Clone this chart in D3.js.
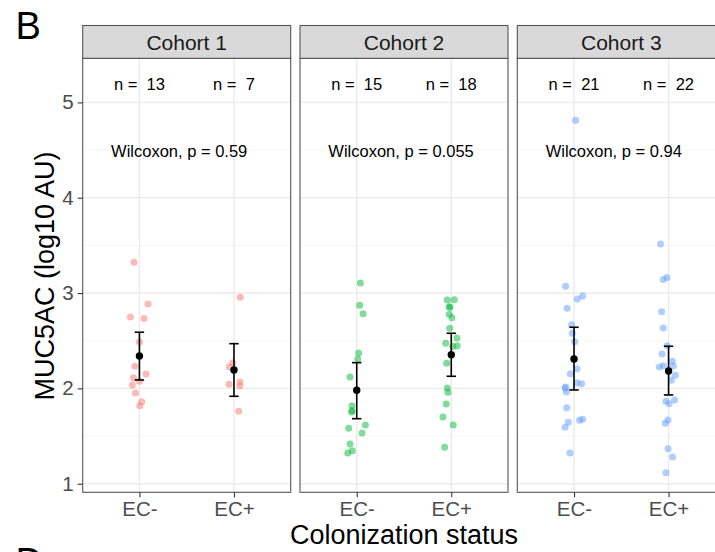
<!DOCTYPE html>
<html>
<head>
<meta charset="utf-8">
<script src="https://cdn.jsdelivr.net/npm/d3@7"></script>
<style>
  html, body { margin: 0; padding: 0; background: #fff; }
  svg { display: block; overflow: hidden; }
  text { font-family: "Liberation Sans", Arial, Helvetica, sans-serif; }
</style>
</head>
<body>
<svg id="chart" width="715" height="552"></svg>
<script>
// Facets and groups
const cohorts = ["Cohort 1", "Cohort 2", "Cohort 3"];
const groups = ["EC-", "EC+"];

// MUC5AC (log10 AU) per subject, with the horizontal jitter (in category units)
const c1NegValues = [3.323, 2.886, 2.749, 2.732, 2.487, 2.232, 2.151, 2.112, 2.074, 2.036, 1.952, 1.861, 1.819];
const c1NegJitter = [-0.057, 0.091, -0.095, 0.049, 0.000, -0.047, 0.070, -0.063, 0.000, -0.074, -0.042, 0.024, 0.003];
const c1PosValues = [2.956, 2.270, 2.225, 2.067, 2.043, 2.025, 1.760];
const c1PosJitter = [0.067, -0.014, -0.050, 0.063, -0.053, 0.063, 0.050];

const c2NegValues = [3.106, 2.872, 2.784, 2.371, 2.308, 2.120, 1.819, 1.766, 1.752, 1.616, 1.581, 1.532, 1.417, 1.346, 1.322];
const c2NegJitter = [0.039, 0.032, 0.067, 0.021, 0.011, -0.071, -0.050, -0.050, -0.053, 0.092, -0.085, 0.056, -0.071, -0.046, -0.095];
const c2PosValues = [2.928, 2.931, 2.857, 2.851, 2.778, 2.742, 2.631, 2.529, 2.473, 2.438, 2.448, 2.263, 2.004, 1.959, 1.836, 1.700, 1.616, 1.382];
const c2PosJitter = [-0.042, 0.032, -0.021, -0.014, -0.021, 0.007, -0.017, 0.060, -0.059, 0.015, 0.063, -0.049, -0.042, -0.035, -0.053, -0.088, 0.021, -0.070];

const c3NegValues = [4.813, 3.071, 2.970, 2.938, 2.840, 2.668, 2.578, 2.490, 2.154, 2.204, 2.060, 2.049, 2.015, 2.004, 1.962, 1.798, 1.644, 1.592, 1.665, 1.676, 1.322];
const c3NegJitter = [0.017, -0.089, 0.091, 0.035, -0.074, -0.025, -0.018, 0.006, -0.039, 0.032, 0.032, 0.080, -0.089, -0.095, -0.081, -0.078, -0.060, -0.095, 0.059, 0.091, -0.042];
const c3PosValues = [3.515, 3.141, 3.162, 2.805, 2.634, 2.448, 2.361, 2.284, 2.235, 2.238, 2.225, 2.137, 2.085, 1.865, 1.840, 1.878, 1.668, 1.633, 1.367, 1.280, 1.116, 2.183];
const c3PosJitter = [-0.085, -0.056, -0.017, -0.074, -0.056, -0.014, -0.070, 0.039, 0.050, -0.056, -0.098, 0.071, 0.029, -0.028, 0.004, 0.063, -0.006, -0.035, -0.006, 0.042, -0.028, 0.000];

// Group means with their confidence interval
const meanValues = [[2.340, 2.193], [1.980, 2.354], [2.308, 2.183]];
const ciLower    = [[2.088, 1.917], [1.682, 2.127], [1.983, 1.931]];
const ciUpper    = [[2.589, 2.469], [2.270, 2.578], [2.641, 2.442]];

// Wilcoxon test p-values per cohort
const pValues = ["0.59", "0.055", "0.94"];

const yTicks = [1, 2, 3, 4, 5];
const yMinorTicks = [1.5, 2.5, 3.5, 4.5];
const cohortColors = ["#F8766D", "#00BA38", "#619CFF"];

const seriesValues = [[c1NegValues, c1PosValues], [c2NegValues, c2PosValues], [c3NegValues, c3PosValues]];
const seriesJitter = [[c1NegJitter, c1PosJitter], [c2NegJitter, c2PosJitter], [c3NegJitter, c3PosJitter]];

// Layout
const svg = d3.select("#chart");
const panelTop = 58.3, panelBottom = 492.3;
const stripTop = 25.5;
const panelW = 208, panelGap = 9.3, firstLeft = 82.7;

const y = d3.scaleLinear().domain([0.9098, 5.4626]).range([panelBottom, panelTop]);
const xIn = d3.scaleLinear().domain([0.4, 2.6]).range([0, panelW]);
const xPoint = d3.scalePoint().domain(groups).range([xIn(1), xIn(2)]);

// Figure panel letters
svg.append("text").attr("x", 15.5).attr("y", 39).attr("font-size", 38).attr("fill", "#000").text("B");
svg.append("text").attr("x", 15.5).attr("y", 574.5).attr("font-size", 38).attr("fill", "#000").text("D");

cohorts.forEach((cohort, ci) => {
  const left = firstLeft + ci * (panelW + panelGap);
  const g = svg.append("g").attr("transform", `translate(${left},0)`);

  // background + grid
  g.append("rect").attr("x", 0).attr("y", panelTop).attr("width", panelW)
    .attr("height", panelBottom - panelTop).attr("fill", "#fff");
  g.selectAll("line.minor").data(yMinorTicks).join("line")
    .attr("x1", 0).attr("x2", panelW)
    .attr("y1", d => y(d)).attr("y2", d => y(d))
    .attr("stroke", "#f2f2f2").attr("stroke-width", 0.8);
  g.selectAll("line.majorY").data(yTicks).join("line")
    .attr("x1", 0).attr("x2", panelW)
    .attr("y1", d => y(d)).attr("y2", d => y(d))
    .attr("stroke", "#ebebeb").attr("stroke-width", 1.4);
  g.selectAll("line.majorX").data(groups).join("line")
    .attr("x1", d => xPoint(d)).attr("x2", d => xPoint(d))
    .attr("y1", panelTop).attr("y2", panelBottom)
    .attr("stroke", "#ebebeb").attr("stroke-width", 1.4);

  // jittered points
  groups.forEach((grp, gi) => {
    const vals = seriesValues[ci][gi];
    const jit = seriesJitter[ci][gi];
    g.append("g").selectAll("circle").data(vals).join("circle")
      .attr("cx", (d, i) => xIn(gi + 1 + jit[i]))
      .attr("cy", d => y(d))
      .attr("r", 3.5)
      .attr("fill", cohortColors[ci])
      .attr("fill-opacity", 0.5);
  });

  // mean ± CI
  groups.forEach((grp, gi) => {
    const cx = xIn(gi + 1);
    const eb = g.append("g").attr("stroke", "#000").attr("stroke-width", 1.6);
    eb.append("line").attr("x1", cx).attr("x2", cx)
      .attr("y1", y(ciLower[ci][gi])).attr("y2", y(ciUpper[ci][gi]));
    [ciLower[ci][gi], ciUpper[ci][gi]].forEach(v => {
      eb.append("line").attr("x1", cx - 4.7).attr("x2", cx + 4.7)
        .attr("y1", y(v)).attr("y2", y(v));
    });
    g.append("circle").attr("cx", cx).attr("cy", y(meanValues[ci][gi]))
      .attr("r", 3.7).attr("fill", "#000");
  });

  // sample sizes
  groups.forEach((grp, gi) => {
    g.append("text")
      .attr("x", xPoint(grp)).attr("y", 90)
      .attr("text-anchor", "middle")
      .attr("font-size", 16.5).attr("fill", "#000")
      .style("white-space", "pre")
      .text("n =  " + seriesValues[ci][gi].length);
  });

  // test result
  g.append("text")
    .attr("x", xIn(0.7)).attr("y", 156.7)
    .attr("font-size", 16.5).attr("fill", "#000")
    .text("Wilcoxon, p = " + pValues[ci]);

  // panel border
  g.append("rect").attr("x", 0).attr("y", panelTop).attr("width", panelW)
    .attr("height", panelBottom - panelTop)
    .attr("fill", "none").attr("stroke", "#555").attr("stroke-width", 1.1);

  // strip
  g.append("rect").attr("x", 0).attr("y", stripTop).attr("width", panelW)
    .attr("height", panelTop - stripTop)
    .attr("fill", "#d9d9d9").attr("stroke", "#555").attr("stroke-width", 1.1);
  g.append("text").attr("x", panelW / 2).attr("y", 50)
    .attr("text-anchor", "middle").attr("font-size", 21).attr("fill", "#1a1a1a")
    .text(cohort);

  // x axis
  const xa = g.append("g").attr("transform", `translate(0,${panelBottom})`)
    .call(d3.axisBottom(xPoint).tickSize(5).tickPadding(4));
  xa.select(".domain").remove();
  xa.selectAll(".tick line").attr("stroke", "#333").attr("stroke-width", 1.1);
  xa.selectAll(".tick text").attr("font-size", 20.5).attr("fill", "#4d4d4d")
    .attr("font-family", "Liberation Sans, Arial, sans-serif");
});

// y axis
const ya = svg.append("g").attr("transform", `translate(${firstLeft},0)`)
  .call(d3.axisLeft(y).tickValues(yTicks).tickSize(5).tickPadding(4).tickFormat(d3.format("d")));
ya.select(".domain").remove();
ya.selectAll(".tick line").attr("stroke", "#333").attr("stroke-width", 1.1);
ya.selectAll(".tick text").attr("font-size", 20.5).attr("fill", "#4d4d4d")
  .attr("font-family", "Liberation Sans, Arial, sans-serif");

// axis titles
svg.append("text")
  .attr("transform", `translate(54,276) rotate(-90)`)
  .attr("text-anchor", "middle").attr("font-size", 27).attr("fill", "#000")
  .text("MUC5AC (log10 AU)");
svg.append("text")
  .attr("x", 404).attr("y", 544)
  .attr("text-anchor", "middle").attr("font-size", 27).attr("fill", "#000")
  .text("Colonization status");
</script>
</body>
</html>
